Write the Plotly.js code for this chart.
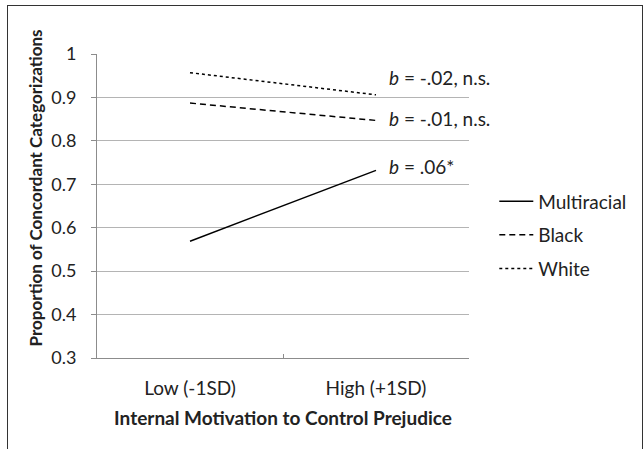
<!DOCTYPE html>
<html><head><meta charset="utf-8">
<script src="https://cdn.plot.ly/plotly-3.0.1.min.js"></script>
<style>
html,body{margin:0;padding:0;background:#fff;}
#wrap{position:relative;width:644px;height:449px;}
#chart{width:644px;height:449px;}
#frame{position:absolute;left:7px;top:5px;width:636px;height:460px;border:1px solid #333;pointer-events:none;box-sizing:border-box;}
</style></head>
<body>
<div id="wrap"><div id="chart"></div><div id="frame"></div></div>
<script>
const categories = ["Low (-1SD)", "High (+1SD)"];
const multiracial = [0.569, 0.732];
const black = [0.887, 0.847];
const white = [0.957, 0.906];
const seriesNames = ["Multiracial", "Black", "White"];
const slopeLabels = ["<i>b</i> = .06*", "<i>b</i> = -.01, n.s.", "<i>b</i> = -.02, n.s."];
const slopeLabelY = [0.742, 0.852, 0.945];
const yTicks = [0.3, 0.4, 0.5, 0.6, 0.7, 0.8, 0.9, 1];
const yTickText = ["0.3", "0.4", "0.5", "0.6", "0.7", "0.8", "0.9", "1"];
const xTitle = "Internal Motivation to Control Prejudice";
const yTitle = "Proportion of Concordant Categorizations";

const font = "Lato, 'Open Sans', sans-serif";
const txt = "#222";
const traces = [
  {x: categories, y: multiracial, name: seriesNames[0], mode: "lines", legendgroup: "a",
   line: {color: "#000", width: 1.5}},
  {x: categories, y: black, name: seriesNames[1], mode: "lines", legendgroup: "b",
   line: {color: "#000", width: 1.5, dash: "6px,4px"}},
  {x: categories, y: white, name: seriesNames[2], mode: "lines", legendgroup: "c",
   line: {color: "#000", width: 1.5, dash: "3px,3px"}}
];
const annotations = slopeLabels.map((t, i) => ({
  text: t, xref: "paper", yref: "y", x: 0.78, y: slopeLabelY[i],
  xanchor: "left", yanchor: "middle", showarrow: false,
  font: {family: font, size: 19, color: txt}
}));
annotations.push({
  text: "<b>" + yTitle + "</b>", xref: "paper", yref: "paper",
  x: -0.165, y: 0.56, xanchor: "center", yanchor: "middle", textangle: -90,
  showarrow: false, font: {family: font, size: 17, color: txt}
});
const layout = {
  width: 644, height: 449,
  margin: {l: 97, r: 165, t: 54, b: 91},
  paper_bgcolor: "#fff", plot_bgcolor: "#fff",
  font: {family: font, size: 19, color: txt},
  showlegend: true,
  legend: {x: 1.068, xanchor: "left", y: 0.578, yanchor: "top",
    traceorder: "grouped", tracegroupgap: 6, itemwidth: 34,
    font: {family: font, size: 19, color: txt}, bgcolor: "rgba(0,0,0,0)"},
  xaxis: {type: "category", range: [-0.5, 1.5],
    showline: true, linecolor: "#8c8c8c", linewidth: 1,
    showgrid: false, zeroline: false,
    ticks: "inside", tickson: "boundaries", ticklen: 4, tickcolor: "#8c8c8c",
    ticklabelstandoff: 13,
    tickfont: {family: font, size: 19, color: txt},
    title: {text: "<b>" + xTitle + "</b>", standoff: 13,
      font: {family: font, size: 19, color: txt}}},
  yaxis: {range: [0.3, 1], tickvals: yTicks, ticktext: yTickText,
    showline: true, linecolor: "#8c8c8c", linewidth: 1,
    showgrid: true, gridcolor: "#b4b4b4", gridwidth: 1, zeroline: false,
    ticks: "outside", ticklen: 5, tickcolor: "#8c8c8c", ticklabelstandoff: 11,
    tickfont: {family: font, size: 18, color: txt}},
  annotations: annotations
};
Plotly.newPlot("chart", traces, layout, {displayModeBar: false, staticPlot: true});
</script>
</body></html>
